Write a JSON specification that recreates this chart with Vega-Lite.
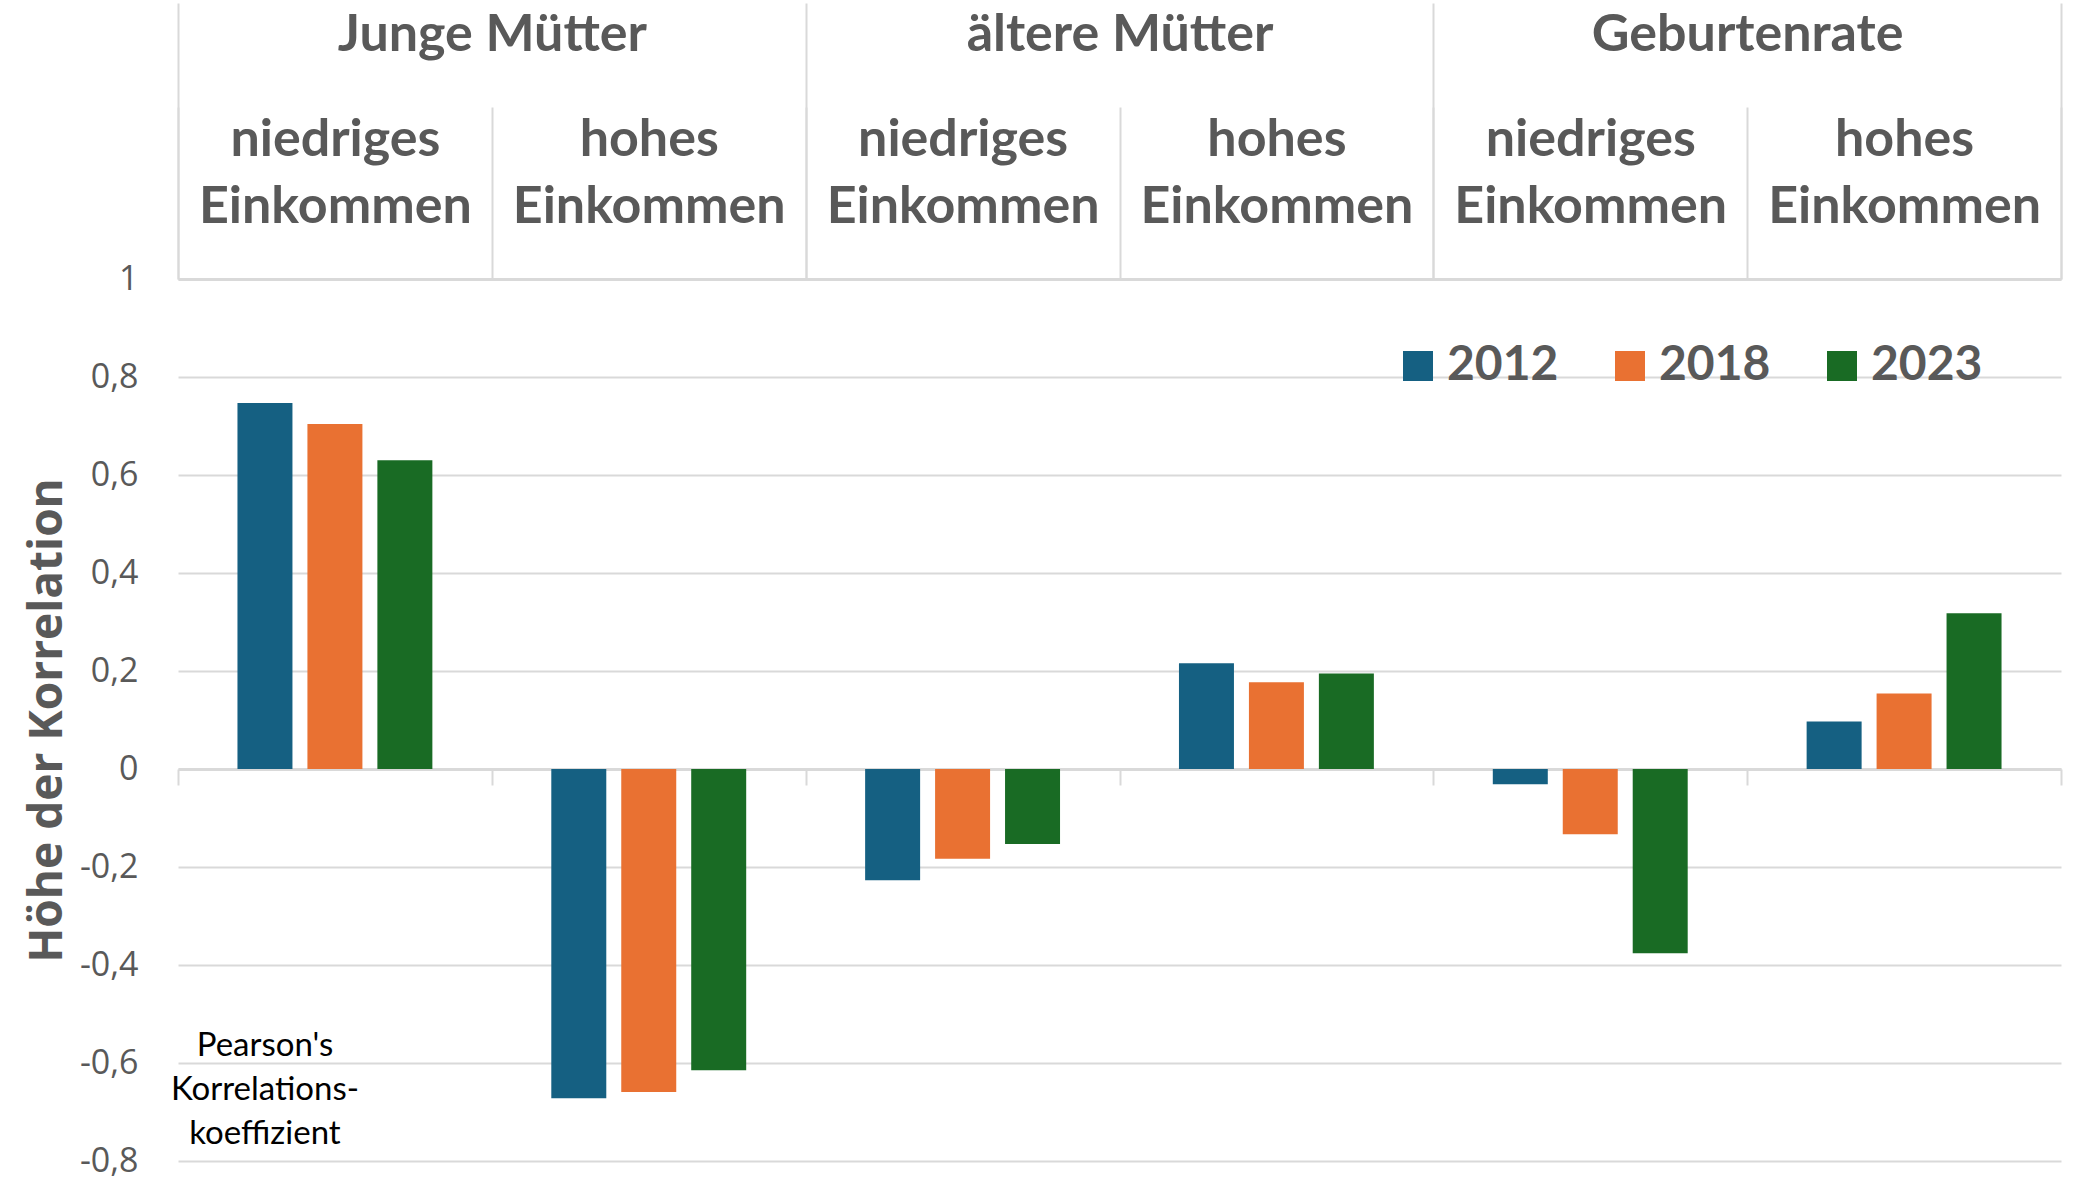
{
  "$schema": "https://vega.github.io/schema/vega-lite/v6.json",
  "width": 1883,
  "height": 882,
  "autosize": {"type": "none"},
  "padding": {"left": 178, "top": 279, "right": 20, "bottom": 27},
  "background": "white",
  "config": {
    "view": {"stroke": null},
    "font": "Lato"
  },
  "data": {
    "values": [
      {"gruppe": "Junge Mütter", "kategorie": "Junge Mütter | niedriges Einkommen", "jahr": "2012", "wert": 0.747},
      {"gruppe": "Junge Mütter", "kategorie": "Junge Mütter | niedriges Einkommen", "jahr": "2018", "wert": 0.704},
      {"gruppe": "Junge Mütter", "kategorie": "Junge Mütter | niedriges Einkommen", "jahr": "2023", "wert": 0.630},
      {"gruppe": "Junge Mütter", "kategorie": "Junge Mütter | hohes Einkommen", "jahr": "2012", "wert": -0.672},
      {"gruppe": "Junge Mütter", "kategorie": "Junge Mütter | hohes Einkommen", "jahr": "2018", "wert": -0.659},
      {"gruppe": "Junge Mütter", "kategorie": "Junge Mütter | hohes Einkommen", "jahr": "2023", "wert": -0.615},
      {"gruppe": "ältere Mütter", "kategorie": "ältere Mütter | niedriges Einkommen", "jahr": "2012", "wert": -0.227},
      {"gruppe": "ältere Mütter", "kategorie": "ältere Mütter | niedriges Einkommen", "jahr": "2018", "wert": -0.183},
      {"gruppe": "ältere Mütter", "kategorie": "ältere Mütter | niedriges Einkommen", "jahr": "2023", "wert": -0.153},
      {"gruppe": "ältere Mütter", "kategorie": "ältere Mütter | hohes Einkommen", "jahr": "2012", "wert": 0.216},
      {"gruppe": "ältere Mütter", "kategorie": "ältere Mütter | hohes Einkommen", "jahr": "2018", "wert": 0.177},
      {"gruppe": "ältere Mütter", "kategorie": "ältere Mütter | hohes Einkommen", "jahr": "2023", "wert": 0.195},
      {"gruppe": "Geburtenrate", "kategorie": "Geburtenrate | niedriges Einkommen", "jahr": "2012", "wert": -0.031},
      {"gruppe": "Geburtenrate", "kategorie": "Geburtenrate | niedriges Einkommen", "jahr": "2018", "wert": -0.133},
      {"gruppe": "Geburtenrate", "kategorie": "Geburtenrate | niedriges Einkommen", "jahr": "2023", "wert": -0.376},
      {"gruppe": "Geburtenrate", "kategorie": "Geburtenrate | hohes Einkommen", "jahr": "2012", "wert": 0.097},
      {"gruppe": "Geburtenrate", "kategorie": "Geburtenrate | hohes Einkommen", "jahr": "2018", "wert": 0.154},
      {"gruppe": "Geburtenrate", "kategorie": "Geburtenrate | hohes Einkommen", "jahr": "2023", "wert": 0.318}
    ]
  },
  "layer": [
    {
      "layer": [
        {
          "mark": {"type": "bar"},
          "encoding": {
            "x": {
              "field": "kategorie",
              "type": "nominal",
              "sort": null,
              "scale": {"paddingInner": 0, "paddingOuter": 0},
              "axis": {
                "orient": "bottom",
                "offset": -392,
                "title": null,
                "labels": false,
                "grid": false,
                "domain": true,
                "domainColor": "#d9d9d9",
                "domainWidth": 3,
                "ticks": true,
                "tickBand": "extent",
                "tickSize": 16,
                "tickColor": "#d9d9d9",
                "tickWidth": 2
              }
            },
            "xOffset": {
              "field": "jahr",
              "type": "nominal",
              "scale": {"paddingInner": 0.214, "paddingOuter": 0.85}
            },
            "y": {
              "field": "wert",
              "type": "quantitative",
              "scale": {"domain": [-0.8, 1], "nice": false},
              "axis": {
                "values": [-0.8, -0.6, -0.4, -0.2, 0, 0.2, 0.4, 0.6, 0.8, 1],
                "labelExpr": "(datum.value < 0 ? '-' : '') + replace(format(abs(datum.value), '.1~f'), '.', ',')",
                "domain": false,
                "ticks": false,
                "grid": true,
                "gridColor": "#d9d9d9",
                "gridWidth": 2,
                "labelFont": "Open Sans",
                "labelFontSize": 34,
                "labelColor": "#595959",
                "labelPadding": 40,
                "title": "Höhe der Korrelation",
                "titleFont": "Open Sans",
                "titleFontWeight": "bold",
                "titleFontSize": 46,
                "titleColor": "#595959",
                "titlePadding": 8
              }
            },
            "color": {
              "field": "jahr",
              "type": "nominal",
              "scale": {"domain": ["2012", "2018", "2023"], "range": ["#156082", "#e97132", "#196b24"]},
              "legend": {
                "orient": "none",
                "legendX": 1216,
                "legendY": 63,
                "direction": "horizontal",
                "title": null,
                "padding": 0,
                "symbolType": "square",
                "symbolSize": 900,
                "symbolStrokeWidth": 0,
                "labelFont": "Lato",
                "labelFontWeight": "bold",
                "labelFontSize": 48,
                "labelColor": "#595959",
                "labelOffset": 5,
                "columnPadding": 47
              }
            }
          }
        },
        {
          "data": {"values": [{}]},
          "mark": {
            "type": "text",
            "text": ["Pearson's", "Korrelations-", "koeffizient"],
            "font": "Lato",
            "fontSize": 33,
            "lineHeight": 44,
            "color": "#000000",
            "align": "center",
            "baseline": "middle"
          },
          "encoding": {
            "x": {"datum": "Junge Mütter | niedriges Einkommen"},
            "xOffset": {"datum": "2012"},
            "y": {"datum": -0.565}
          }
        }
      ]
    },
    {
      "mark": {"type": "text", "text": ""},
      "encoding": {
        "x": {
          "field": "kategorie",
          "type": "nominal",
          "sort": null,
          "scale": {"paddingInner": 0, "paddingOuter": 0},
          "axis": {
            "orient": "top",
            "title": null,
            "grid": false,
            "domain": true,
            "domainColor": "#d9d9d9",
            "domainWidth": 3,
            "ticks": true,
            "tickBand": "extent",
            "tickSize": 172,
            "tickColor": "#d9d9d9",
            "tickWidth": 2,
            "labelExpr": "isString(datum.value) && indexof(datum.value, ' | ') >= 0 ? split(split(datum.value, ' | ')[1], ' ') : ''",
            "labelAngle": 0,
            "labelFont": "Lato",
            "labelFontWeight": "bold",
            "labelFontSize": 52,
            "labelColor": "#595959",
            "labelLineHeight": 67,
            "labelBaseline": "middle",
            "labelPadding": -32,
            "labelLimit": 0,
            "labelOverlap": false
          }
        }
      }
    },
    {
      "mark": {"type": "text", "text": ""},
      "encoding": {
        "x": {
          "field": "gruppe",
          "type": "nominal",
          "sort": null,
          "scale": {"paddingInner": 0, "paddingOuter": 0},
          "axis": {
            "orient": "top",
            "title": null,
            "grid": false,
            "domain": false,
            "ticks": true,
            "tickBand": "extent",
            "tickSize": 276,
            "tickColor": "#d9d9d9",
            "tickWidth": 2,
            "labelAngle": 0,
            "labelFont": "Lato",
            "labelFontWeight": "bold",
            "labelFontSize": 52,
            "labelColor": "#595959",
            "labelBaseline": "alphabetic",
            "labelPadding": -47,
            "labelLimit": 0,
            "labelOverlap": false
          }
        }
      }
    }
  ],
  "resolve": {"scale": {"x": "independent"}, "axis": {"x": "independent"}}
}
